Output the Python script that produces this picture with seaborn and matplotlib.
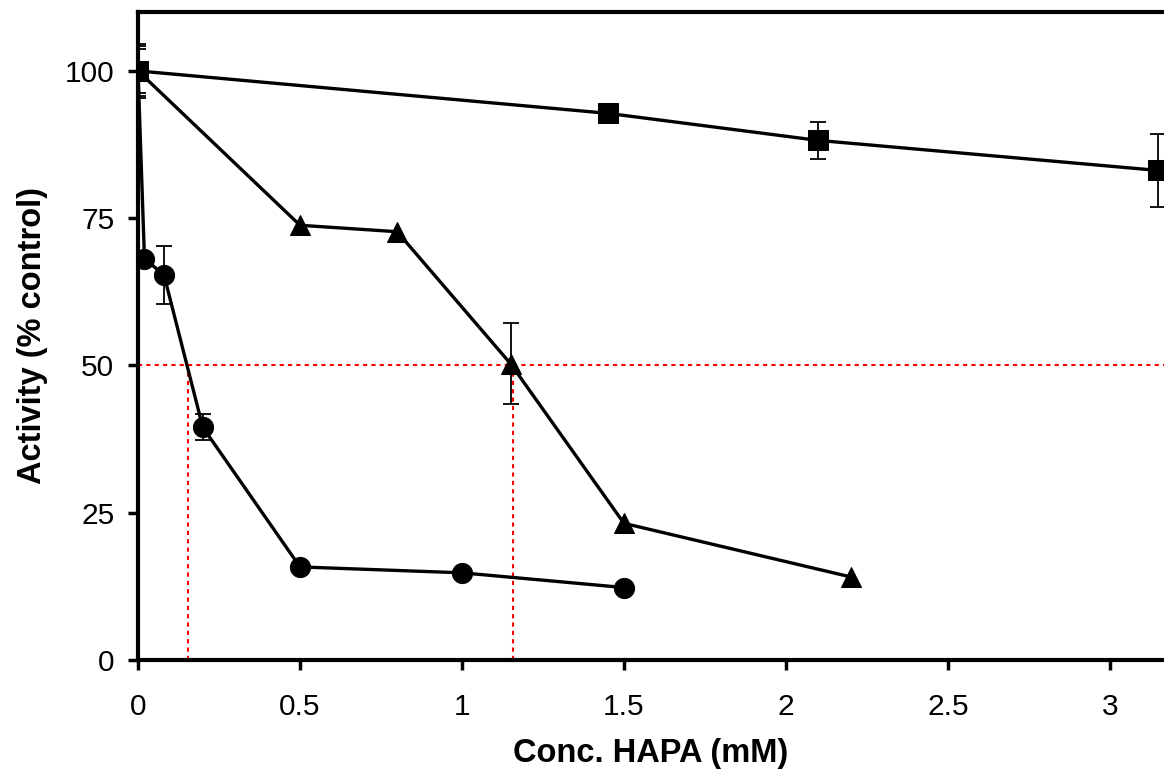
import pandas as pd
import matplotlib
matplotlib.use("Agg")
import matplotlib.pyplot as plt
import seaborn as sns

# circles
circ_x = [0, 0.02, 0.08, 0.2, 0.5, 1.0, 1.5]
circ_y = [100, 68.1, 65.4, 39.5, 15.8, 14.8, 12.3]
circ_err = [4.2, 0, 4.9, 2.2, 0, 0, 0]

# triangles
tri_x = [0, 0.5, 0.8, 1.15, 1.5, 2.2]
tri_y = [100, 73.8, 72.7, 50.3, 23.2, 14.1]
tri_err = [4.6, 0, 0, 6.9, 0, 0]

# squares
sq_x = [0, 1.45, 2.1, 3.15]
sq_y = [100, 92.8, 88.2, 83.1]
sq_err = [3.8, 1.0, 3.1, 6.2]

ic50_x = [0.153, 1.157]
yticks = [0, 25, 50, 75, 100]
xticks = [0, 0.5, 1, 1.5, 2, 2.5, 3]
xticklabels = ["0", "0.5", "1", "1.5", "2", "2.5", "3"]

df = pd.concat([
    pd.DataFrame({"x": circ_x, "y": circ_y, "err": circ_err, "s": "circ"}),
    pd.DataFrame({"x": tri_x, "y": tri_y, "err": tri_err, "s": "tri"}),
    pd.DataFrame({"x": sq_x, "y": sq_y, "err": sq_err, "s": "sq"}),
], ignore_index=True)

sns.set_style("ticks", {"text.color": "black", "axes.labelcolor": "black",
                        "xtick.color": "black", "ytick.color": "black",
                        "axes.edgecolor": "black"})
plt.rcParams["font.family"] = ["Liberation Sans", "DejaVu Sans"]

fig = plt.figure(figsize=(11.64, 7.8), dpi=100)
ax = fig.add_axes([138 / 1164, 1 - 660 / 780, 1 - 138 / 1164, (660 - 12) / 780])

# red dotted guide lines at 50%
ax.plot([0, 3.5], [50, 50], color="red", ls=(0, (2, 2)), lw=1.5, zorder=1)
for xv in ic50_x:
    ax.plot([xv, xv], [0, 50], color="red", ls=(0, (2, 2)), lw=1.5, zorder=1)

for name, g in df.groupby("s", sort=False):
    e = g[g["err"] > 0]
    ax.errorbar(e["x"], e["y"], yerr=e["err"], fmt="none", ecolor="black",
                elinewidth=1.3, capsize=6, capthick=1.3, zorder=2)

sns.lineplot(data=df, x="x", y="y", hue="s", style="s", sort=False,
             palette={"circ": "black", "tri": "black", "sq": "black"},
             markers={"circ": "o", "tri": "^", "sq": "s"}, dashes=False,
             markersize=14.5, markeredgecolor="black", linewidth=2.4,
             legend=False, ax=ax, zorder=3)

ax.set_xlim(0, 3.167)
ax.set_ylim(0, 110)
ax.set_xticks(xticks)
ax.set_xticklabels(xticklabels)
ax.set_yticks(yticks)
ax.tick_params(direction="out", length=7, width=2.5, labelsize=21.5, color="black")
ax.tick_params(axis="x", pad=17)
ax.tick_params(axis="y", pad=10)
for sp in ["left", "bottom", "top"]:
    ax.spines[sp].set_linewidth(3)
    ax.spines[sp].set_color("black")
ax.spines["right"].set_visible(False)

ax.set_xlabel("Conc. HAPA (mM)", fontsize=23.5, fontweight="bold", labelpad=12)
ax.set_ylabel("Activity (% control)", fontsize=23.5, fontweight="bold", labelpad=12)

fig.savefig("out.png", dpi=100)
